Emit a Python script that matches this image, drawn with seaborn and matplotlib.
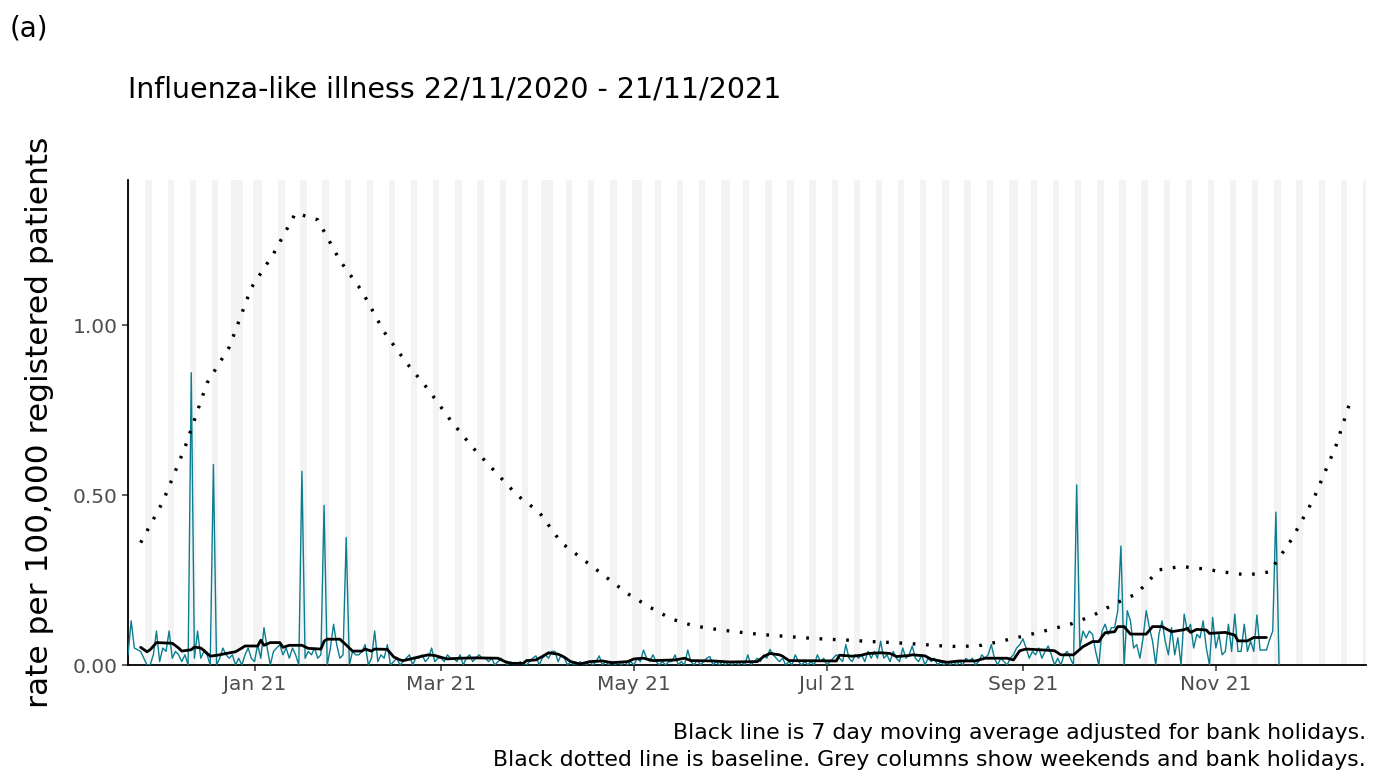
import matplotlib
matplotlib.use("Agg")
import matplotlib.pyplot as plt
import matplotlib.dates as mdates
import matplotlib.ticker as mticker
import seaborn as sns
import pandas as pd

# ---------------- data ----------------
START = "2020-11-22"

# daily rate per 100,000 (Sun..Sat per row), 22/11/2020 - 21/11/2021
daily_rate = [
    0.03, 0.13, 0.05, 0.045, 0.04, 0.02, 0.0,
    0.0, 0.03, 0.10, 0.01, 0.05, 0.04, 0.10,
    0.02, 0.04, 0.03, 0.01, 0.03, 0.0, 0.86,
    0.02, 0.10, 0.02, 0.04, 0.03, 0.0, 0.59,
    0.0, 0.02, 0.05, 0.03, 0.02, 0.03, 0.0,
    0.02, 0.0, 0.03, 0.05, 0.02, 0.01, 0.06,
    0.02, 0.11, 0.05, 0.0, 0.04, 0.05, 0.06,
    0.03, 0.05, 0.02, 0.05, 0.03, 0.0, 0.57,
    0.02, 0.04, 0.03, 0.05, 0.02, 0.03, 0.47,
    0.0, 0.05, 0.12, 0.06, 0.02, 0.03, 0.375,
    0.0, 0.04, 0.03, 0.03, 0.04, 0.06, 0.0,
    0.02, 0.10, 0.01, 0.03, 0.02, 0.06, 0.0,
    0.01, 0.02, 0.0, 0.01, 0.02, 0.03, 0.0,
    0.02, 0.02, 0.03, 0.01, 0.02, 0.05, 0.01,
    0.02, 0.02, 0.01, 0.03, 0.02, 0.02, 0.01,
    0.03, 0.0, 0.02, 0.03, 0.01, 0.02, 0.03,
    0.02, 0.02, 0.01, 0.02, 0.0, 0.01, 0.02,
    0.01, 0.0, 0.01, 0.0, 0.0, 0.01, 0.0,
    0.0, 0.01, 0.02, 0.027, 0.0, 0.02, 0.03,
    0.02, 0.04, 0.04, 0.01, 0.03, 0.02, 0.0,
    0.01, 0.0, 0.0, 0.01, 0.0, 0.0, 0.01,
    0.0, 0.01, 0.027, 0.0, 0.01, 0.0, 0.01,
    0.0, 0.01, 0.0, 0.01, 0.0, 0.01, 0.0,
    0.02, 0.01, 0.044, 0.02, 0.01, 0.03, 0.01,
    0.0, 0.01, 0.0, 0.01, 0.01, 0.03, 0.0,
    0.01, 0.0, 0.044, 0.01, 0.0, 0.015, 0.0,
    0.01, 0.02, 0.025, 0.0, 0.01, 0.0, 0.01,
    0.0, 0.01, 0.0, 0.01, 0.0, 0.01, 0.0,
    0.03, 0.0, 0.01, 0.02, 0.01, 0.03, 0.02,
    0.046, 0.03, 0.02, 0.01, 0.02, 0.0, 0.01,
    0.0, 0.03, 0.01, 0.0, 0.01, 0.0, 0.01,
    0.0, 0.03, 0.01, 0.02, 0.0, 0.01, 0.02,
    0.03, 0.02, 0.01, 0.06, 0.02, 0.01, 0.03,
    0.02, 0.03, 0.01, 0.04, 0.02, 0.04, 0.02,
    0.07, 0.02, 0.03, 0.01, 0.04, 0.02, 0.01,
    0.05, 0.02, 0.03, 0.056, 0.02, 0.01, 0.03,
    0.0, 0.02, 0.01, 0.02, 0.0, 0.01, 0.0,
    0.01, 0.0, 0.01, 0.0, 0.01, 0.0, 0.02,
    0.01, 0.02, 0.0, 0.01, 0.03, 0.02, 0.03,
    0.06, 0.02, 0.0, 0.02, 0.01, 0.0, 0.02,
    0.03, 0.05, 0.06, 0.077, 0.05, 0.02, 0.04,
    0.03, 0.05, 0.02, 0.04, 0.056, 0.03, 0.0,
    0.02, 0.0, 0.03, 0.04, 0.02, 0.0, 0.53,
    0.05, 0.10, 0.08, 0.10, 0.09, 0.04, 0.0,
    0.10, 0.12, 0.09, 0.11, 0.11, 0.16, 0.35,
    0.0, 0.16, 0.13, 0.05, 0.06, 0.02, 0.08,
    0.16, 0.11, 0.07, 0.0, 0.09, 0.13, 0.07,
    0.03, 0.11, 0.03, 0.08, 0.0, 0.15, 0.10,
    0.12, 0.05, 0.09, 0.08, 0.13, 0.05, 0.0,
    0.14, 0.05, 0.09, 0.03, 0.04, 0.12, 0.04,
    0.15, 0.04, 0.04, 0.12, 0.04, 0.07, 0.04,
    0.147, 0.044, 0.044, 0.044, 0.074, 0.10, 0.45,
    0.0,
]

# 7 day moving average (adjusted for bank holidays): day index from START, value
ma_day_index = [4, 6, 7, 9, 14, 16, 17, 20, 21, 23, 24, 26, 29, 31, 34, 36, 37, 41, 42, 43,
                45, 48, 49, 51, 55, 57, 61, 62, 63, 67, 69, 71, 74, 75, 77, 78, 82, 84, 86, 87,
                89, 92, 95, 97, 100, 101, 105, 110, 117, 119, 121, 125, 126, 129, 131, 133, 136,
                138, 140, 143, 146, 150, 153, 158, 160, 163, 166, 173, 176, 178, 185, 190, 199,
                201, 203, 206, 207, 209, 224, 225, 229, 232, 234, 238, 241, 243, 247, 248, 252,
                254, 259, 263, 268, 271, 278, 280, 282, 284, 290, 293, 295, 299, 302, 305, 307,
                308, 309, 312, 313, 315, 317, 322, 324, 327, 330, 334, 335, 336, 338, 341, 342,
                347, 350, 351, 354, 356, 360]
ma_rate = [0.052, 0.039, 0.045, 0.066, 0.064, 0.050, 0.041, 0.045, 0.053, 0.050, 0.043, 0.026,
           0.030, 0.034, 0.039, 0.050, 0.056, 0.056, 0.073, 0.058, 0.066, 0.066, 0.052, 0.058,
           0.058, 0.049, 0.047, 0.070, 0.076, 0.076, 0.059, 0.041, 0.041, 0.047, 0.041, 0.047,
           0.046, 0.024, 0.015, 0.013, 0.017, 0.024, 0.030, 0.028, 0.020, 0.018, 0.020, 0.021,
           0.020, 0.011, 0.005, 0.005, 0.013, 0.015, 0.025, 0.036, 0.032, 0.023, 0.010, 0.003,
           0.010, 0.012, 0.007, 0.010, 0.018, 0.020, 0.013, 0.015, 0.020, 0.013, 0.012, 0.009,
           0.010, 0.025, 0.034, 0.030, 0.026, 0.013, 0.012, 0.029, 0.026, 0.029, 0.034, 0.036,
           0.034, 0.025, 0.028, 0.030, 0.027, 0.017, 0.008, 0.012, 0.012, 0.020, 0.020, 0.015,
           0.042, 0.047, 0.044, 0.042, 0.030, 0.030, 0.054, 0.069, 0.069, 0.083, 0.095, 0.098,
           0.113, 0.113, 0.091, 0.091, 0.113, 0.113, 0.098, 0.104, 0.108, 0.096, 0.105, 0.103,
           0.093, 0.096, 0.088, 0.071, 0.071, 0.081, 0.081]

# weekly baseline (from 26/11/2020), plus a final point on 14/12/2021
baseline_rate = [0.36, 0.48, 0.64, 0.83, 0.935, 1.11, 1.21, 1.33, 1.31, 1.19, 1.10, 0.98, 0.89,
                 0.81, 0.72, 0.64, 0.57, 0.50, 0.45, 0.36, 0.31, 0.26, 0.21, 0.17, 0.135, 0.115,
                 0.105, 0.097, 0.09, 0.085, 0.08, 0.076, 0.073, 0.069, 0.066, 0.062, 0.057,
                 0.054, 0.058, 0.072, 0.087, 0.103, 0.12, 0.145, 0.18, 0.21, 0.28, 0.29, 0.283,
                 0.273, 0.265, 0.274, 0.37, 0.49, 0.645, 0.79]

bank_holidays = ["2020-12-25", "2020-12-28", "2021-01-01", "2021-04-02", "2021-04-05",
                 "2021-05-03", "2021-05-31", "2021-08-30", "2021-12-27", "2021-12-28"]

month_ticks = ["2021-01-01", "2021-03-01", "2021-05-01", "2021-07-01", "2021-09-01", "2021-11-01"]
y_ticks = [0.0, 0.5, 1.0]

title = "Influenza-like illness 22/11/2020 - 21/11/2021"
ylabel = "rate per 100,000 registered patients"
caption1 = "Black line is 7 day moving average adjusted for bank holidays."
caption2 = "Black dotted line is baseline. Grey columns show weekends and bank holidays."

# ---------------- frames ----------------
start = pd.Timestamp(START)
daily_df = pd.DataFrame({"date": pd.date_range(start, periods=len(daily_rate), freq="D"),
                         "rate": daily_rate})
ma_df = pd.DataFrame({"date": start + pd.to_timedelta(ma_day_index, unit="D"), "rate": ma_rate})
base_dates = list(pd.date_range("2020-11-26", "2021-12-09", freq="7D")) + [pd.Timestamp("2021-12-14")]
base_df = pd.DataFrame({"date": base_dates, "rate": baseline_rate})

# ---------------- plot ----------------
sns.set_style("ticks")
plt.rcParams["font.family"] = ["DejaVu Sans"]
plt.rcParams["text.color"] = "black"

fig = plt.figure(figsize=(13.78, 7.74), dpi=100)
ax = fig.add_axes([0.0929, 0.1408, 0.8984, 0.6266])

sns.lineplot(data=daily_df, x="date", y="rate", ax=ax, color="#0A7D8F", lw=1.0, zorder=3)
sns.lineplot(data=ma_df, x="date", y="rate", ax=ax, color="black", lw=2.0, zorder=4)
sns.lineplot(data=base_df, x="date", y="rate", ax=ax, color="black", lw=2.4, zorder=4,
             dashes=False)
ax.lines[-1].set_linestyle((0, (0.8, 3.2)))

half = pd.Timedelta(hours=12)
xmin = pd.Timestamp("2020-11-22")
xmax = pd.Timestamp("2021-12-18 12:00")
for d in pd.date_range("2020-11-21", "2021-12-19", freq="D"):
    if d.dayofweek == 5:
        ax.axvspan(d - half, d + pd.Timedelta(days=1) + half, color="#808080", alpha=0.09,
                   lw=0, zorder=0)
for b in bank_holidays:
    d = pd.Timestamp(b)
    ax.axvspan(d - half, d + half, color="#808080", alpha=0.09, lw=0, zorder=0)

ax.set_xlim(xmin, xmax)
ax.set_ylim(0, 1.427)
ax.set_xticks(pd.to_datetime(month_ticks))
ax.xaxis.set_major_formatter(mdates.DateFormatter("%b %y"))
ax.set_yticks(y_ticks)
ax.yaxis.set_major_formatter(mticker.FormatStrFormatter("%.2f"))
ax.set_xlabel("")
ax.set_ylabel("")
ax.tick_params(axis="both", labelsize=14.5, colors="#333333", labelcolor="#4D4D4D",
               length=4, width=1.1)
for s in ["top", "right"]:
    ax.spines[s].set_visible(False)
for s in ["left", "bottom"]:
    ax.spines[s].set_linewidth(1.3)
    ax.spines[s].set_color("black")

fig.text(10 / 1378, 1 - 28 / 774, "(a)", fontsize=20, ha="left", va="center", color="black")
fig.text(128 / 1378, 1 - 90 / 774, title, fontsize=20.5, ha="left", va="center", color="black")
fig.text(40 / 1378, 1 - 422 / 774, ylabel, fontsize=22.5, rotation=90, ha="center",
         va="center", color="black")
fig.text(1366 / 1378, 1 - 733 / 774, caption1, fontsize=15.8, ha="right", va="center",
         color="black")
fig.text(1366 / 1378, 1 - 760 / 774, caption2, fontsize=15.8, ha="right", va="center",
         color="black")

fig.savefig("out.png", dpi=100)
